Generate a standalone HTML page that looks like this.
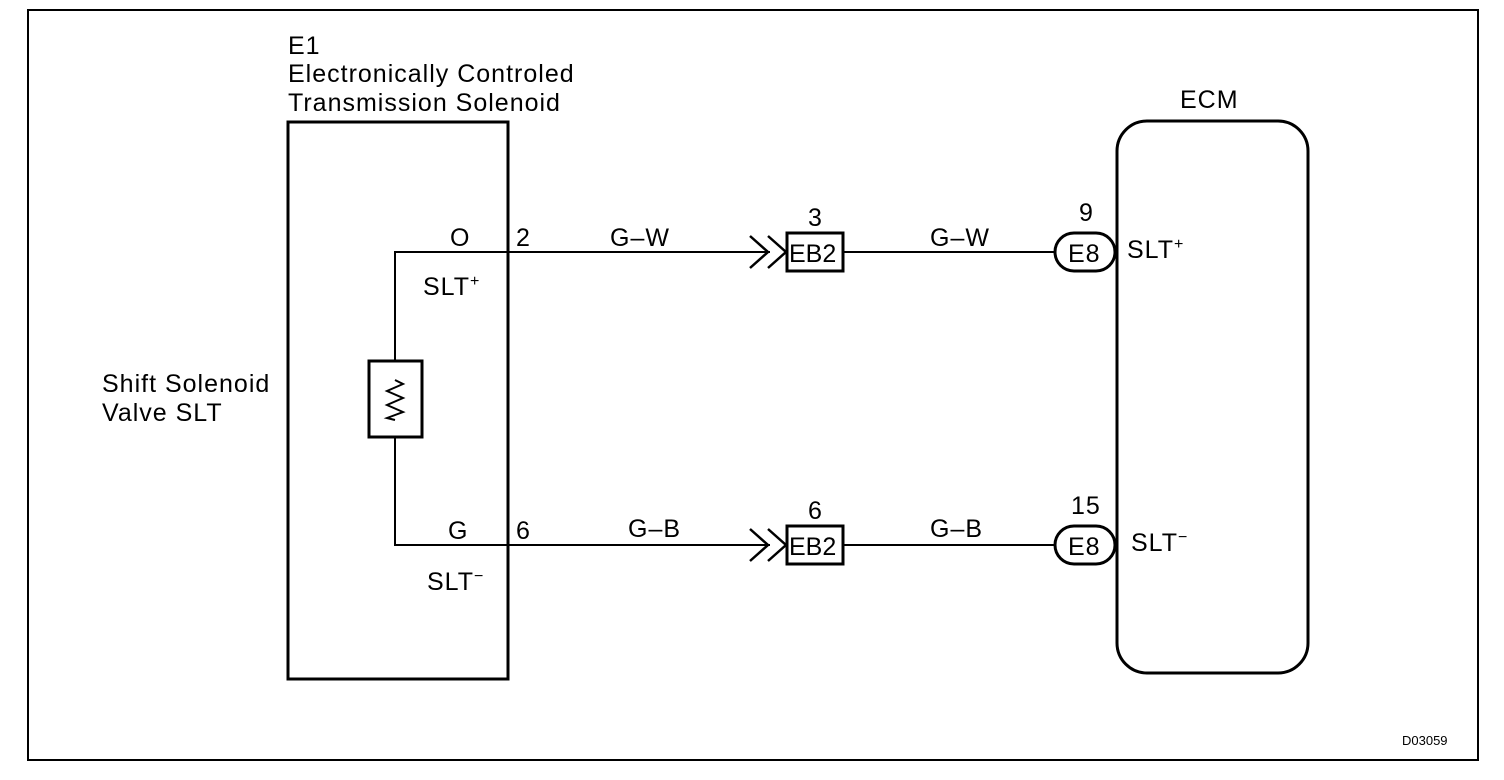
<!DOCTYPE html>
<html><head><style>body{margin:0;background:#fff}svg{display:block}text{font-family:"Liberation Sans",Arial,sans-serif;fill:#000;font-size:25px;letter-spacing:1px}</style></head><body>
<svg width="1504" height="780" viewBox="0 0 1504 780" xmlns="http://www.w3.org/2000/svg">
<rect x="28" y="10" width="1450" height="750" fill="none" stroke="#000" stroke-width="2"/>
<rect x="288" y="122" width="220" height="557" fill="none" stroke="#000" stroke-width="3"/>
<rect x="1117" y="121" width="191" height="552" rx="30" fill="none" stroke="#000" stroke-width="3"/>
<text x="288" y="54">E1</text>
<text x="288" y="82">Electronically Controled</text>
<text x="288" y="111">Transmission Solenoid</text>
<text x="1180" y="108">ECM</text>
<text x="102" y="392">Shift Solenoid</text>
<text x="102" y="421">Valve SLT</text>
<polyline points="508,252 395,252 395,361" fill="none" stroke="#000" stroke-width="2"/>
<polyline points="395,437 395,545 508,545" fill="none" stroke="#000" stroke-width="2"/>
<rect x="369" y="361" width="53" height="76" fill="none" stroke="#000" stroke-width="3"/>
<polyline points="395,380 403,384 387,391 403,398 387,405 403,412 387,418 395,420" fill="none" stroke="#000" stroke-width="2"/>
<text x="450" y="246">O</text>
<text x="448" y="539">G</text>
<text x="423" y="295">SLT<tspan style="font-size:16px" dy="-9">+</tspan></text>
<text x="427" y="590">SLT<tspan style="font-size:16px" dy="-9">−</tspan></text>
<text x="516" y="246">2</text>
<text x="516" y="539">6</text>
<line x1="508" y1="252" x2="770" y2="252" stroke="#000" stroke-width="2"/>
<line x1="508" y1="545" x2="770" y2="545" stroke="#000" stroke-width="2"/>
<polyline points="750,236 768,252 750,268" fill="none" stroke="#000" stroke-width="2.5"/>
<polyline points="768,236 786,252 768,268" fill="none" stroke="#000" stroke-width="2.5"/>
<polyline points="750,529 768,545 750,561" fill="none" stroke="#000" stroke-width="2.5"/>
<polyline points="768,529 786,545 768,561" fill="none" stroke="#000" stroke-width="2.5"/>
<rect x="787" y="233" width="56" height="38" fill="none" stroke="#000" stroke-width="3"/>
<rect x="787" y="526" width="56" height="38" fill="none" stroke="#000" stroke-width="3"/>
<text x="789" y="262" style="letter-spacing:0">EB2</text>
<text x="789" y="555" style="letter-spacing:0">EB2</text>
<text x="808" y="226">3</text>
<text x="808" y="519">6</text>
<text x="610" y="246">G–W</text>
<text x="628" y="537">G–B</text>
<line x1="843" y1="252" x2="1055" y2="252" stroke="#000" stroke-width="2"/>
<line x1="843" y1="545" x2="1055" y2="545" stroke="#000" stroke-width="2"/>
<text x="930" y="246">G–W</text>
<text x="930" y="537">G–B</text>
<rect x="1055" y="233" width="60" height="38" rx="19" fill="#fff" stroke="#000" stroke-width="3"/>
<rect x="1055" y="526" width="60" height="38" rx="19" fill="#fff" stroke="#000" stroke-width="3"/>
<text x="1068" y="262">E8</text>
<text x="1068" y="555">E8</text>
<text x="1079" y="221">9</text>
<text x="1071" y="514">15</text>
<text x="1127" y="258">SLT<tspan style="font-size:16px" dy="-9">+</tspan></text>
<text x="1131" y="551">SLT<tspan style="font-size:16px" dy="-9">−</tspan></text>
<text x="1402" y="745" style="font-size:13px;letter-spacing:0">D03059</text>
</svg>
</body></html>
